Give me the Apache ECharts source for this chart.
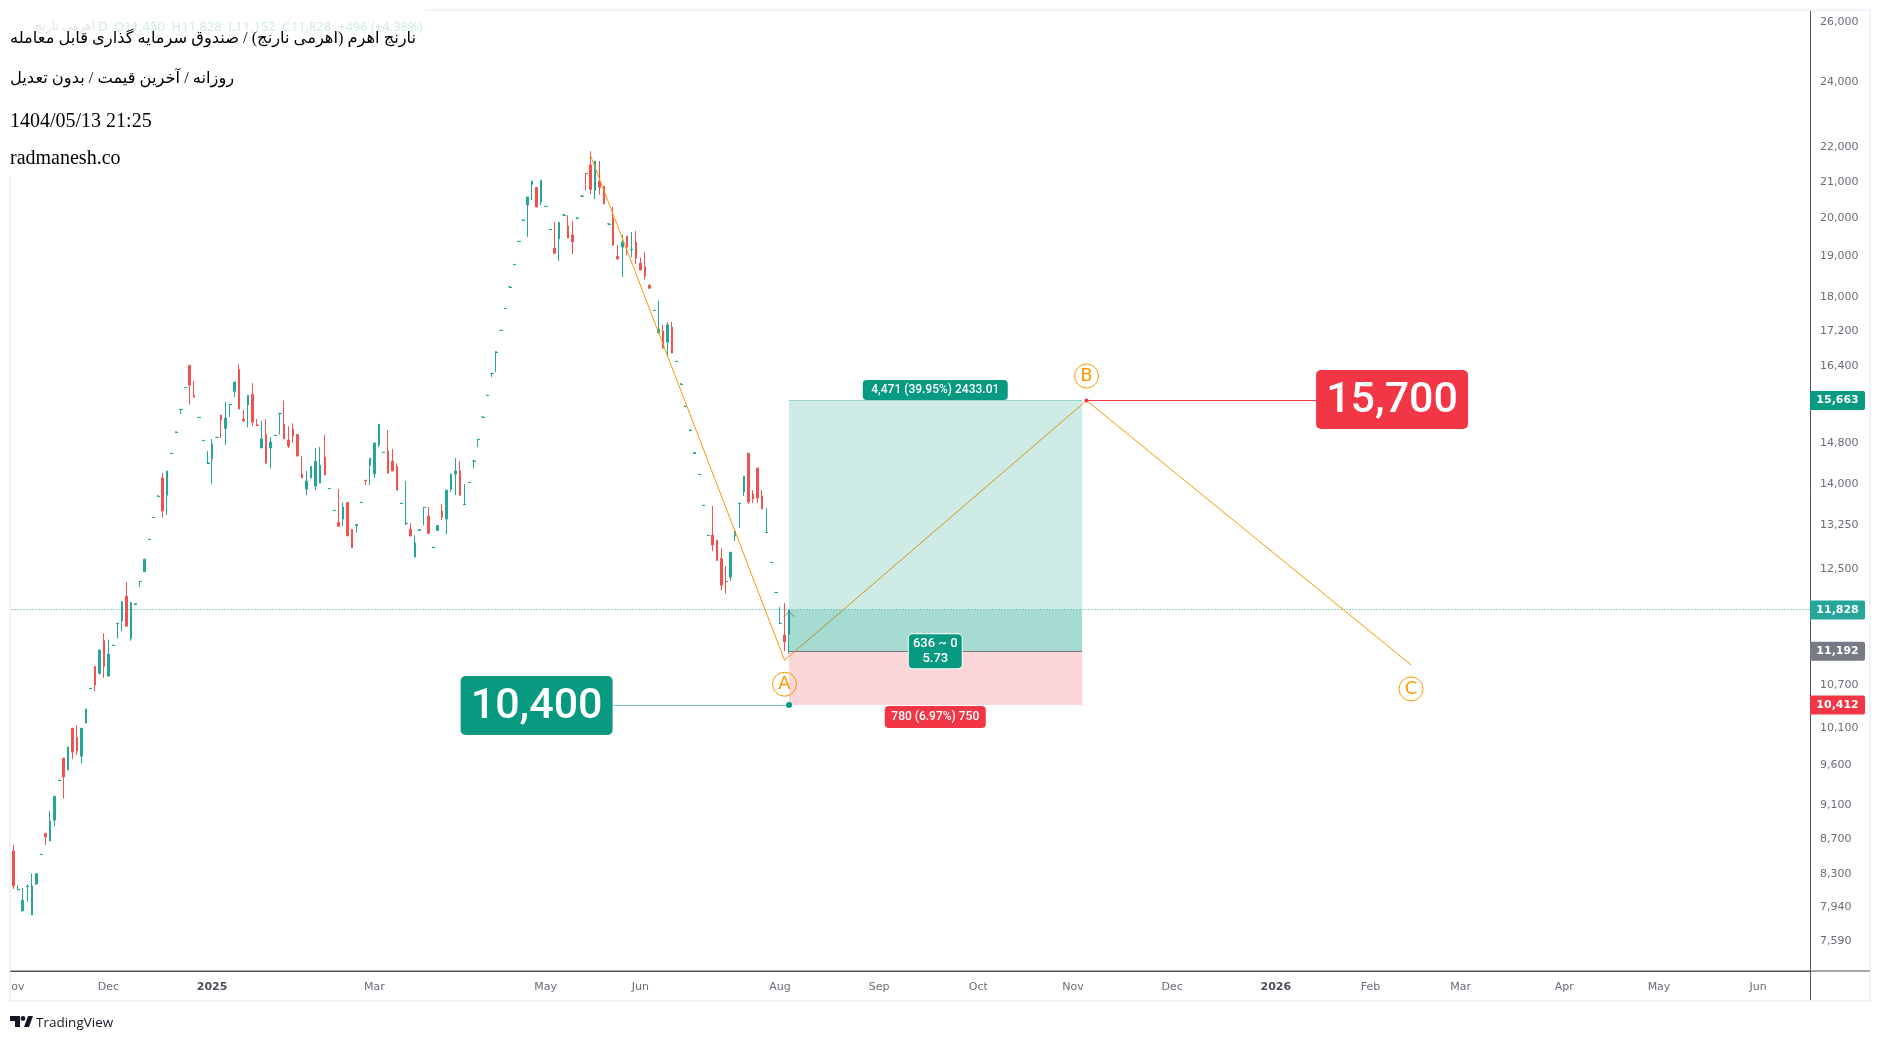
<!DOCTYPE html>
<html>
<head>
<meta charset="utf-8">
<title>نارنج اهرم</title>
<script src="https://cdn.jsdelivr.net/npm/echarts@6/dist/echarts.min.js"></script>
<style>
  html, body { margin: 0; padding: 0; background: #fff; }
  #chart { width: 1880px; height: 1041px; }
</style>
</head>
<body>
<div id="chart"></div>
<script>
// daily bars (bar 0 is the clipped one at the left edge)
var barOpen = [
  8562,8131,7900,8164,7858,8190,8522,8766,8678,8924,
  9412,9697,9544,10093,9968,9723,10163,10646,10967,10860,
  11351,10827,11280,11616,11654,12047,11383,11924,12290,12453,
  13002,13390,13787,14118,13795,14591,15021,15478,15939,16419,
  15773,15312,14849,14412,14479,14909,15362,15091,15582,15860,
  16328,15278,15570,15795,15168,14698,14966,14698,14949,15395,
  15174,14857,15070,14966,14194,13909,14118,13966,14023,14519,
  13921,13517,13306,13361,13662,13179,13263,13663,14074,14360,
  14194,14757,14611,14638,14439,14340,13645,13287,13179,12697,
  13172,13571,13415,12864,13160,13506,13361,13909,14194,14260,
  13627,14035,14451,14869,15320,15772,16243,16725,17209,17722,
  18246,18801,19389,19962,20358,20933,20846,20441,20320,19706,
  19215,19452,20099,19795,19558,20017,20605,21240,21481,20760,
  21020,20875,19851,20005,19004,19241,19531,19179,19373,18832,
  18742,18281,17674,17149,17195,16941,17287,16507,16022,15541,
  15058,14607,14185,13608,13071,13078,12990,12675,12290,12361,
  13061,13645,13855,14596,13817,14308,13781,13124,12606,12109,
  11616,11438,11450
];
var barHigh = [
  8631,8176,8146,8190,8306,8306,8523,8766,9033,9213,
  9413,9697,9843,10093,10135,10093,10357,10647,10967,11210,
  11463,11367,11281,11617,11964,12280,11948,11925,12291,12662,
  13003,13391,13788,14213,14251,14592,15022,15479,15940,16419,
  16078,15313,14850,14638,14877,14910,15362,15643,15583,16056,
  16442,15465,15773,16034,15278,15237,15278,14917,14950,15396,
  15665,15133,15195,14966,14539,14251,14340,14698,14718,14956,
  13922,13518,13909,13662,13662,13179,13264,13664,14074,14499,
  14797,15174,14612,15049,14678,14399,13646,14061,13288,13075,
  13173,13572,13579,12865,13247,13634,13890,14194,14499,14439,
  14004,14036,14452,14870,15321,15773,16244,16726,17210,17723,
  18247,18802,19390,19963,20578,21020,20846,21048,20321,19707,
  19908,19889,20100,20082,19927,20018,20606,21240,21880,21596,
  21596,20875,19852,20303,19294,19558,19531,19636,19663,18977,
  19114,18305,17675,17900,17334,17402,17402,16508,16023,15542,
  15059,14608,14186,13609,13072,13597,12990,12850,12546,12780,
  13149,13646,14154,14596,13891,14308,13891,13560,12607,12110,
  11875,11939,11828
];
var barLow = [
  8135,8131,7900,8001,7858,8190,8522,8631,8678,8851,
  9412,9188,9544,9683,9737,9630,10163,10646,10608,10860,
  10798,10812,11280,11383,11495,11574,11351,11924,12197,12453,
  13002,13390,13787,13385,13434,14591,15021,15382,15939,15578,
  15731,15312,14849,14412,14004,14909,14897,14757,15320,15731,
  15486,15237,15112,15133,15167,14698,14399,14300,14949,14966,
  14877,14698,14797,14539,14118,13795,14118,13890,14023,14175,
  13921,13517,13233,13233,13062,12853,13124,13663,13985,13985,
  14118,14718,14611,14194,14251,13890,13645,13247,13062,12697,
  13172,13247,13106,12864,13160,13343,13088,13852,13795,13795,
  13627,14035,14300,14718,15320,15772,16163,16273,17209,17722,
  18246,18801,19389,19962,19505,20496,20303,20358,20320,19706,
  19083,18886,20099,19478,19057,20017,20605,20760,20654,20523,
  20644,20385,19851,19268,18936,18483,19030,18977,18810,18659,
  18424,18207,17674,17149,16803,16604,16692,16507,16022,15541,
  15058,14607,14185,13608,13071,12797,12639,12145,12093,12294,
  12973,13201,13781,13634,13652,13652,13542,13124,12606,12109,
  11616,11190,11152
];
var barClose = [
  8168,8132,8013,8165,8168,8306,8523,8725,8912,9213,
  9413,9455,9843,9777,9790,10093,10357,10647,10696,11210,
  10967,11149,11281,11617,11964,11574,11948,11925,12291,12662,
  13003,13391,13788,13506,14251,14592,15022,15479,15940,15991,
  15731,15313,14850,14413,14777,14910,15257,15299,15583,16056,
  15486,15237,15773,15216,15167,14877,14399,14817,14950,15396,
  14877,14738,14936,14539,14118,14061,14340,14439,14360,14175,
  13922,13518,13233,13579,13062,12853,13264,13664,14072,14499,
  14797,15174,14612,14213,14251,13890,13646,13288,13062,12940,
  13173,13572,13106,12865,13247,13397,13890,14194,14251,13795,
  13628,14036,14452,14870,15321,15773,16244,16726,17210,17723,
  18247,18802,19390,19963,20578,21020,20303,21048,20321,19707,
  19083,19889,20100,19478,19373,20018,20606,21238,20788,21596,
  20846,20385,19852,19294,18936,19373,19241,19180,18956,18659,
  18508,18207,17675,17241,16803,17334,16692,16508,16023,15542,
  15059,14608,14186,13609,13072,12903,12639,12227,12289,12780,
  13149,13646,14154,13671,13726,13744,13542,13125,12607,12110,
  11617,11332,11828
];
var barCount = 399; // bars on the time scale, including the empty future

var monthBars = [0,21,44,80,118,139,170,192,214,235,257,280,301,321,344,365,387];
var monthNames = ['Nov','Dec','2025','Mar','May','Jun','Aug','Sep','Oct','Nov','Dec','2026','Feb','Mar','Apr','May','Jun'];
var priceTicks = [26000,24000,22000,21000,20000,19000,18000,17200,16400,14800,14000,13250,12500,11800,11200,10700,10100,9600,9100,8700,8300,7940,7590];

// drawings
var waveBars = [128,171,238,310];
var wavePrices = [21742,11057,15663,10988];
var waveMarks = [[171,10707,'A'],[238,16187,'B'],[310,10640,'C']];
var entryPrice = 11192, targetPrice = 15663, stopPrice = 10412, lastPrice = 11828;
var boxStart = 172, boxEnd = 237;

var categories = [];
for (var i = 0; i < barCount; i++) categories.push(String(i));
var ohlc = barOpen.map(function(o, k) { return [o, barClose[k], barLow[k], barHigh[k]]; });
var monthOf = {};
monthBars.forEach(function(b, k) { monthOf[b] = monthNames[k]; });

// bars that opened and closed at the same price, redrawn so they stay a crisp 3px dash
var flatBars = [];
barOpen.forEach(function(o, k) {
  if (Math.abs(o - barClose[k]) <= 2) flatBars.push([k, barClose[k], o > barClose[k] ? 1 : 0]);
});

var up = '#26a69a', down = '#ef5350', teal = '#089981', red = '#f23645', orange = '#ff9800', grey = '#787b86', axisInk = '#50535e', frame = '#f0f3fa';
var uiFont = '"DejaVu Sans", sans-serif', tagFont = 'Roboto, sans-serif', serif = '"Liberation Serif", "DejaVu Sans", serif';

function segment(name, pts, color, width) {
  return { name: name, type: 'line', data: pts, symbol: 'none', silent: true, z: 4, lineStyle: { color: color, width: width || 1 } };
}

// horizontal rule snapped to the pixel grid
function rule(name, from, to, price, color, dash) {
  return {
    name: name,
    type: 'custom',
    silent: true,
    z: 4,
    data: [[from, to, price]],
    renderItem: function(params, api) {
      var a = api.coord([api.value(0), api.value(2)]);
      var b = api.coord([api.value(1), api.value(2)]);
      var y = Math.floor(a[1]) + 0.5;
      var x1 = dash ? params.coordSys.x : a[0];
      var x2 = dash ? params.coordSys.x + params.coordSys.width : b[0];
      return { type: 'line', shape: { x1: x1, y1: y, x2: x2, y2: y }, style: { stroke: color, lineWidth: 1, lineDash: dash || null } };
    }
  };
}

// a price tag drawn as the label of an invisible point
function tag(x, y, text, bg, w, h, size, extra) {
  var label = { show: true, position: 'inside', formatter: text, color: '#fff', fontFamily: tagFont, fontSize: size, fontWeight: 500, backgroundColor: bg, width: w, height: h, lineHeight: h, align: 'center', verticalAlign: 'middle', borderRadius: 4 };
  for (var key in (extra || {})) label[key] = extra[key];
  return { value: [x, y], symbolSize: 0, itemStyle: { opacity: 1 }, label: label };
}
function axisTag(y, text, bg) {
  return tag(398, y, text, bg, 55, 19, 11, { offset: [29.8, 0], fontFamily: uiFont, fontWeight: 'bold', borderRadius: [0, 2, 2, 0] });
}

var chart = echarts.init(document.getElementById('chart'), null, { renderer: 'canvas' });
chart.setOption({
  animation: false,
  backgroundColor: '#ffffff',
  grid: { left: 10, right: 70, top: 10, bottom: 70 },
  xAxis: {
    type: 'category',
    data: categories,
    axisLine: { lineStyle: { color: axisInk, width: 1 } },
    axisTick: { show: false },
    splitLine: { show: false },
    axisLabel: {
      margin: 11,
      fontFamily: uiFont,
      fontSize: 11,
      color: '#6a6d78',
      hideOverlap: false,
      interval: function(index) { return monthOf[index] !== undefined; },
      formatter: function(value, index) {
        var name = monthOf[index];
        return /^\d{4}$/.test(name) ? '{year|' + name + '}' : name;
      },
      rich: { year: { fontFamily: uiFont, fontSize: 11, fontWeight: 'bold', color: '#4a4d58' } }
    }
  },
  yAxis: {
    type: 'log',
    position: 'right',
    min: 7289,
    max: 26443,
    axisLine: { show: true, lineStyle: { color: axisInk, width: 1 } },
    axisTick: { show: false },
    splitLine: { show: false },
    minorTick: { show: false },
    axisLabel: {
      margin: 10,
      fontFamily: uiFont,
      fontSize: 11,
      color: '#6a6d78',
      customValues: priceTicks,
      formatter: function(v) { return Math.round(v).toLocaleString('en-US'); }
    }
  },
  series: [
    segment('wave', waveBars.map(function(b, k) { return [b, wavePrices[k]]; }), orange, 1),
    rule('last price', 0, barCount - 1, lastPrice, up, [1, 2]),
    {
      name: 'bars',
      type: 'candlestick',
      data: ohlc,
      barWidth: 2,
      z: 3,
      itemStyle: { color: up, color0: down, borderColor: up, borderColor0: down, borderWidth: 1 }
    },
    {
      name: 'flat bars',
      type: 'custom',
      silent: true,
      z: 3,
      data: flatBars,
      clip: true,
      renderItem: function(params, api) {
        var p = api.coord([api.value(0), api.value(1)]);
        return {
          type: 'rect',
          shape: { x: Math.round(p[0]) - 1, y: Math.round(p[1]), width: 3, height: 1 },
          style: { fill: api.value(2) ? down : up }
        };
      }
    },
    {
      name: 'position',
      type: 'line',
      data: [],
      z: 5,
      markArea: {
        silent: true,
        z: 5,
        data: [
          [{ coord: [boxStart, targetPrice], itemStyle: { color: 'rgba(8,153,129,0.2)' } }, { coord: [boxEnd, entryPrice] }],
          [{ coord: [boxStart, lastPrice], itemStyle: { color: 'rgba(8,153,129,0.2)' } }, { coord: [boxEnd, entryPrice] }],
          [{ coord: [boxStart, entryPrice], itemStyle: { color: 'rgba(242,54,69,0.2)' } }, { coord: [boxEnd, stopPrice] }]
        ]
      }
    },
    rule('target edge', boxStart, boxEnd, targetPrice, 'rgba(8,153,129,0.35)'),
    rule('entry', boxStart, boxEnd, entryPrice, grey),
    rule('to 15700', 238, 291, targetPrice, red),
    rule('to 10400', 133, boxStart, stopPrice, 'rgba(8,153,129,0.55)'),
    {
      name: 'wave marks',
      type: 'scatter',
      z: 6,
      silent: true,
      symbolSize: 24,
      itemStyle: { color: 'rgba(255,255,255,0)', borderColor: orange, borderWidth: 1, opacity: 1 },
      label: { show: true, position: 'inside', color: orange, fontFamily: uiFont, fontSize: 18, formatter: function(p) { return p.value[2]; } },
      data: waveMarks
    },
    {
      name: 'anchors',
      type: 'scatter',
      z: 6,
      silent: true,
      data: [
        { value: [238, targetPrice], symbolSize: 4, itemStyle: { color: red, opacity: 1 } },
        { value: [boxStart, stopPrice], symbolSize: 6, itemStyle: { color: teal, opacity: 1 } },
        { value: [boxStart, 11760], symbol: 'path://M0,6 L5,0 L10,6', symbolSize: [11, 5], itemStyle: { color: 'rgba(0,0,0,0)', borderColor: 'rgba(120,123,134,0.6)', borderWidth: 1, opacity: 1 } }
      ]
    },
    {
      name: 'tags',
      type: 'scatter',
      z: 7,
      silent: true,
      clip: false,
      itemStyle: { opacity: 1 },
      data: [
        tag(306, targetPrice, '15,700', red, 152, 55, 43, { verticalAlign: 'top', offset: [-1, -30.5], padding: [4, 0, 0, 0], lineHeight: 55, borderRadius: 5 }),
        tag(116, stopPrice, '10,400', teal, 152, 55, 43, { verticalAlign: 'top', offset: [0, -29], padding: [4, 0, 0, 0], lineHeight: 55, borderRadius: 5 }),
        tag(204, 15886, '4,471 (39.95%) 2433.01', teal, 145, 20, 12, { offset: [2, 0] }),
        tag(204, entryPrice, '636 ~ 0\n5.73', teal, 53, 34, 13, { offset: [2, 0], lineHeight: 15, height: 34, borderColor: '#fff', borderWidth: 1 }),
        tag(204, 10248, '780 (6.97%) 750', red, 101, 22, 12, { offset: [2, 0] }),
        axisTag(targetPrice, '15,663', teal),
        axisTag(lastPrice, '11,828', up),
        axisTag(entryPrice, '11,192', grey),
        axisTag(stopPrice, '10,412', red)
      ]
    }
  ],
  graphic: [
    // pane frame and the extended axis rules
    { type: 'rect', z: 50, shape: { x: 10, y: 10, width: 1860, height: 991 }, style: { fill: 'none', stroke: frame, lineWidth: 2 } },
    { type: 'line', z: 50, shape: { x1: 10, y1: 971, x2: 1870, y2: 971 }, style: { stroke: axisInk, lineWidth: 1 } },
    { type: 'line', z: 50, shape: { x1: 1810.5, y1: 971, x2: 1810.5, y2: 1000 }, style: { stroke: axisInk, lineWidth: 1 } },
    { type: 'rect', z: 51, shape: { x: 0, y: 975, width: 9, height: 24 }, style: { fill: '#fff' } },
    // header card pasted on top of the chart
    { type: 'rect', z: 60, shape: { x: 0, y: 0, width: 425, height: 177 }, style: { fill: '#fff' } },
    { type: 'text', z: 61, x: 95, y: 27, style: { text: 'اهرمی نارنج', align: 'right', verticalAlign: 'middle', fill: '#e3e5ea', font: '12px ' + uiFont } },
    { type: 'text', z: 61, x: 98, y: 27, style: { text: 'D  O11,450  H11,828  L11,152  C11,828  +496 (+4.38%)', verticalAlign: 'middle', fill: '#cfeae5', font: '13px "Open Sans", sans-serif' } },
    { type: 'text', z: 62, x: 10, y: 39, style: { text: '\u202Bنارنج اهرم (اهرمی نارنج) / صندوق سرمایه گذاری قابل معامله\u202C', verticalAlign: 'middle', fill: '#000', font: '16.3px ' + serif } },
    { type: 'text', z: 62, x: 10, y: 78.5, style: { text: '\u202Bروزانه / آخرین قیمت / بدون تعدیل\u202C', verticalAlign: 'middle', fill: '#000', font: '16.3px ' + serif } },
    { type: 'text', z: 62, x: 10, y: 122, style: { text: '1404/05/13 21:25', verticalAlign: 'middle', fill: '#000', font: '20px ' + serif } },
    { type: 'text', z: 62, x: 10, y: 158.5, style: { text: 'radmanesh.co', verticalAlign: 'middle', fill: '#000', font: '20px ' + serif } },
    // footer logo
    { type: 'polygon', z: 50, shape: { points: [[10, 1016], [20, 1016], [20, 1027], [15, 1027], [15, 1021], [10, 1021]] }, style: { fill: '#131722' } },
    { type: 'circle', z: 50, shape: { cx: 23, cy: 1018.5, r: 2.4 }, style: { fill: '#131722' } },
    { type: 'polygon', z: 50, shape: { points: [[33, 1016], [28, 1016], [24, 1027], [29, 1027]] }, style: { fill: '#131722' } },
    { type: 'text', z: 50, x: 36, y: 1023, style: { text: 'TradingView', verticalAlign: 'middle', fill: '#131722', font: '13.5px "Open Sans", sans-serif' } }
  ]
});
window.addEventListener('resize', function() { chart.resize(); });
</script>
</body>
</html>
